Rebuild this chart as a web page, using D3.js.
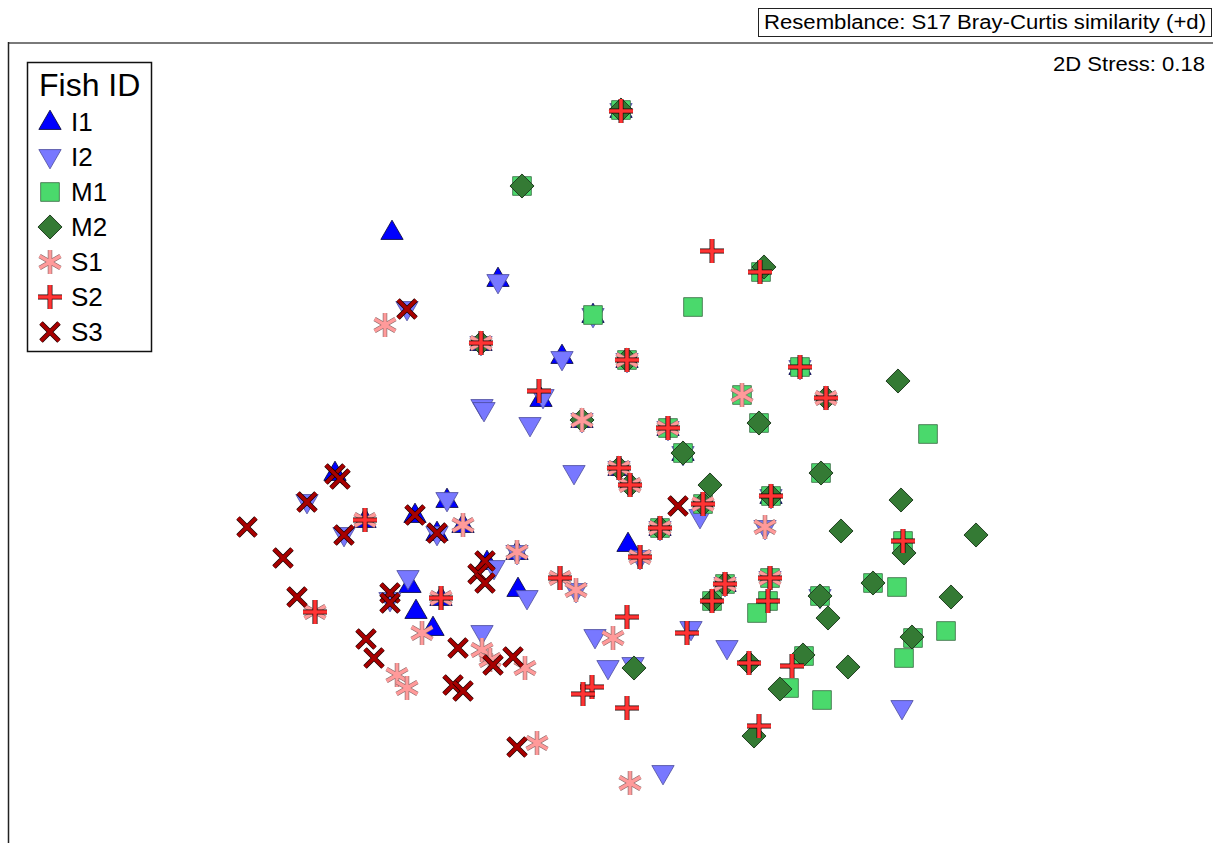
<!DOCTYPE html>
<html>
<head>
<meta charset="utf-8">
<script src="https://cdn.jsdelivr.net/npm/d3@7"></script>
<style>
  body { margin: 0; background: #fff; }
  svg { display: block; font-family: "Liberation Sans", Arial, sans-serif; }
</style>
</head>
<body>
<div id="chart"></div>
<script>
// nMDS ordination coordinates (screen-like units)
const i1 = [[621,110],[392,232],[498,279],[481,343],[593,315],[562,356],[627,360],[800,367],[541,399],
  [582,420],[668,428],[683,453],[619,468],[771,496],[660,528],[725,584],[628,544],[335,473],[365,520],
  [415,515],[447,500],[437,533],[463,525],[487,562],[517,552],[518,589],[410,585],[441,598],[416,611],[433,628]];
const i2 = [[621,111],[498,282],[407,309],[481,344],[593,316],[562,359],[627,361],[800,368],[543,397],
  [482,407],[484,410],[530,425],[574,473],[582,421],[668,429],[683,454],[619,469],[771,497],[700,517],
  [660,529],[725,585],[770,579],[820,597],[765,528],[640,558],[576,591],[527,598],[517,553],[494,568],
  [447,500],[437,534],[307,502],[344,535],[408,578],[390,600],[482,633],[595,637],[608,668],[633,665],
  [691,629],[727,648],[663,773],[902,708]];
const m1 = [[621,110],[522,186],[761,272],[693,307],[593,315],[627,360],[800,367],[742,395],[668,428],
  [759,423],[683,453],[821,473],[928,434],[703,504],[771,496],[660,528],[725,584],[712,601],[770,578],
  [768,601],[757,613],[820,596],[873,583],[897,587],[903,541],[913,638],[946,631],[904,658],[804,656],
  [789,688],[822,700]];
const m2 = [[621,110],[522,186],[764,267],[481,343],[627,360],[582,420],[826,398],[759,423],[683,453],
  [619,468],[630,485],[710,485],[703,504],[771,496],[660,528],[725,584],[712,601],[820,596],[828,618],
  [873,583],[821,473],[898,381],[901,500],[841,531],[904,553],[976,535],[951,597],[912,637],[803,655],
  [848,667],[780,689],[754,736],[749,663],[634,668]];
const s1 = [[481,343],[385,325],[627,360],[742,395],[582,420],[668,428],[826,398],[619,468],[630,485],
  [703,504],[660,528],[725,584],[770,578],[765,527],[640,557],[560,578],[576,590],[517,552],[463,525],
  [365,520],[441,598],[315,612],[422,633],[397,675],[407,688],[482,650],[490,660],[525,668],[537,743],
  [613,638],[630,783]];
const s2 = [[621,111],[712,251],[760,272],[481,343],[627,360],[800,367],[539,391],[826,398],[668,428],
  [619,468],[630,485],[703,504],[771,496],[660,528],[640,557],[725,584],[770,578],[768,601],[712,601],
  [903,541],[560,578],[365,520],[441,598],[315,612],[627,617],[687,633],[749,663],[792,666],[759,726],
  [592,687],[583,694],[627,708]];
const s3 = [[407,309],[335,474],[340,479],[307,502],[247,527],[283,558],[297,597],[344,535],[415,515],
  [437,533],[485,561],[478,574],[485,583],[390,593],[390,603],[366,639],[374,658],[458,648],[493,665],
  [513,657],[453,685],[463,691],[517,747],[678,506]];

const groups = ["I1","I2","M1","M2","S1","S2","S3"];
const groupData = [i1, i2, m1, m2, s1, s2, s3];

const w = 1213, h = 843;

const x = d3.scaleLinear().domain([0, 1213]).range([0, w]);
const y = d3.scaleLinear().domain([0, 843]).range([0, h]);

const svg = d3.select("#chart").append("svg")
  .attr("width", w)
  .attr("height", h);

// marker shapes
const tri = d3.symbol().type(d3.symbolTriangle).size(215)();
const sq = d3.symbol().type(d3.symbolSquare).size(350)();
const dia = d3.symbol().type(d3.symbolSquare).size(290)();
const ast = "M0,-12V12M-10.4,-6L10.4,6M-10.4,6L10.4,-6";
const plus = "M-12,0H12M0,-12V12";
const cross = "M-9,-9L9,9M-9,9L9,-9";

function drawMarker(g, k) {
  if (k == 0) {
    g.append("path").attr("d", tri).attr("transform", "translate(0,1)")
      .attr("fill", "#0000ff").attr("stroke", "#000033").attr("stroke-width", 0.8);
  } else if (k == 1) {
    g.append("path").attr("d", tri).attr("transform", "translate(0,-1) rotate(180)")
      .attr("fill", "#7878ff").attr("stroke", "#4a4a9a").attr("stroke-width", 0.8);
  } else if (k == 2) {
    g.append("path").attr("d", sq)
      .attr("fill", "#4ad96c").attr("stroke", "#3a6a44").attr("stroke-width", 0.8);
  } else if (k == 3) {
    g.append("path").attr("d", dia).attr("transform", "rotate(45)")
      .attr("fill", "#347a34").attr("stroke", "#1c3a1c").attr("stroke-width", 0.9);
  } else {
    const d = k == 4 ? ast : (k == 5 ? plus : cross);
    const col = k == 4 ? "#ff9a9a" : (k == 5 ? "#ff3333" : "#a80000");
    const edge = k == 4 ? "#8a6a6a" : "#1a0000";
    const sw = k == 4 ? 3.2 : 3.6;
    g.append("path").attr("d", d).attr("fill", "none")
      .attr("stroke", edge).attr("stroke-width", sw + 1.3);
    g.append("path").attr("d", d).attr("fill", "none")
      .attr("stroke", col).attr("stroke-width", sw);
  }
}

// frame
svg.append("line").attr("x1", 8).attr("x2", w).attr("y1", 43).attr("y2", 43)
  .attr("stroke", "#7a7a7a").attr("stroke-width", 2);
svg.append("line").attr("x1", 8.5).attr("x2", 8.5).attr("y1", 42).attr("y2", h)
  .attr("stroke", "#222").attr("stroke-width", 1.5);

// points, group by group
groupData.forEach(function(data, k) {
  svg.append("g").selectAll("g")
    .data(data)
    .enter()
    .append("g")
    .attr("transform", d => "translate(" + x(d[0]) + "," + y(d[1]) + ")")
    .each(function() { drawMarker(d3.select(this), k); });
});

// resemblance box
svg.append("rect").attr("x", 758.5).attr("y", 8.5).attr("width", 453).attr("height", 28)
  .attr("fill", "#fff").attr("stroke", "#222").attr("stroke-width", 1);
svg.append("text").attr("x", 764).attr("y", 29)
  .attr("font-size", 20)
  .attr("textLength", 442).attr("lengthAdjust", "spacingAndGlyphs")
  .text("Resemblance: S17 Bray-Curtis similarity (+d)");

svg.append("text").attr("x", 1205).attr("y", 71)
  .attr("text-anchor", "end").attr("font-size", 21)
  .attr("textLength", 152).attr("lengthAdjust", "spacingAndGlyphs")
  .text("2D Stress: 0.18");

// legend
const lg = svg.append("g");
lg.append("rect").attr("x", 27.5).attr("y", 62.5).attr("width", 124).attr("height", 289)
  .attr("fill", "#fff").attr("stroke", "#111").attr("stroke-width", 1.5);
lg.append("text").attr("x", 39).attr("y", 96).attr("font-size", 32).text("Fish ID");
groups.forEach(function(name, k) {
  const yy = 122 + k * 35;
  const g = lg.append("g").attr("transform", "translate(50," + yy + ")");
  drawMarker(g, k);
  lg.append("text").attr("x", 71).attr("y", yy + 9).attr("font-size", 26).text(name);
});
</script>
</body>
</html>
